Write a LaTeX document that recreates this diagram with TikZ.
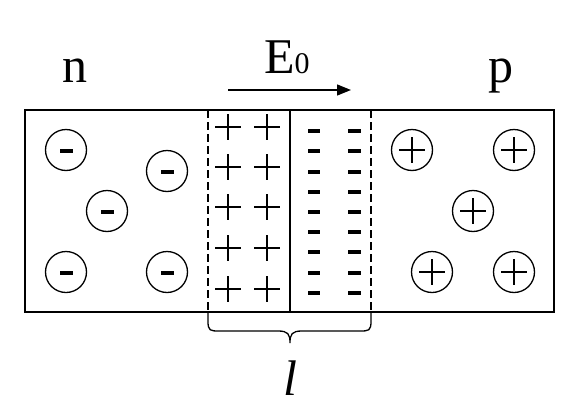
\documentclass[tikz,border=0pt]{standalone}
\usepackage{fontspec}
\setmainfont{Liberation Serif}
\newfontfamily\tmsfont{Liberation Serif}
\usetikzlibrary{arrows.meta}
\begin{document}
\begin{tikzpicture}[x=1pt,y=-1pt,
  ionneg/.style={circle,draw,minimum size=41pt,inner sep=0pt,line width=1.3pt,
    path picture={\fill[shift={(path picture bounding box.center)}] (-6.5,-0.8) rectangle (6.5,3.2);}},
  ionpos/.style={circle,draw,minimum size=41pt,inner sep=0pt,line width=1.3pt,
    path picture={\draw[line width=1.2pt,shift={(path picture bounding box.center)}] (-13,0) -- (13,0) (0,-13) -- (0,13);}},
  pluscharge/.style={inner sep=0pt,minimum size=26pt,
    path picture={\draw[line width=1.2pt,shift={(path picture bounding box.center)}] (-13,0) -- (13,0) (0,-13) -- (0,13);}},
  minuscharge/.style={fill=black,inner sep=0pt,minimum width=12.5pt,minimum height=4pt},
  lbl/.style={font=\tmsfont\fontsize{50}{60}\selectfont,inner sep=0pt},
  dashline/.style={line width=1.2pt,dash pattern=on 8pt off 4pt},
]
\useasboundingbox (0,0) rectangle (579,402);
% outer box
\draw[line width=1.5pt] (25,110) rectangle (554,312);
% depletion boundaries
\draw[dashline] (208,110) -- (208,312);
\draw[dashline] (371,110) -- (371,312);
\draw[line width=1.3pt] (290,110) -- (290,312);
% left ions
\node[ionneg] (a1) at (66,150) {};
\node[ionneg] (a2) at (167,171) {};
\node[ionneg] (a3) at (107,211) {};
\node[ionneg] (a4) at (66,272) {};
\node[ionneg] (a5) at (167,272) {};
% right ions
\node[ionpos] (b1) at (412,150) {};
\node[ionpos] (b2) at (514,150) {};
\node[ionpos] (b3) at (473,211) {};
\node[ionpos] (b4) at (432,272) {};
\node[ionpos] (b5) at (514,272) {};
% plus charges
\foreach \y [count=\i] in {127,167,207,248,289}{
  \node[pluscharge] (pl\i) at (228,\y) {};
  \node[pluscharge] (pr\i) at (267,\y) {};
}
% minus charges
\foreach \y [count=\i] in {131,151,172,192,212,232,252,273,293}{
  \node[minuscharge] (ml\i) at (314,\y) {};
  \node[minuscharge] (mr\i) at (354.5,\y) {};
}
% labels
\node[lbl,anchor=base] (n) at (74.5,82) {n};
\node[lbl,anchor=base] (p) at (501,82) {p};
\node[lbl,anchor=base west] (E) at (264,73) {E{\fontsize{30}{30}\selectfont 0}};
\node[lbl,anchor=base] (l) at (290,395) {\itshape l};
% field arrow
\coordinate (e1) at (228,90);
\coordinate (e2) at (351,90);
\draw[line width=1.3pt,-{Triangle[length=14pt,width=11pt]}] (e1) -- (e2);
% brace
\coordinate (bl) at (208,312);
\coordinate (br) at (371,312);
\coordinate (bt) at (290,343);
\draw[line width=1.3pt] (bl) -- (208,321) .. controls (208,331) and (210,331) .. (220,331)
  -- (278,331) .. controls (288,331) and (290,334) .. (bt)
  .. controls (290,334) and (292,331) .. (302,331) -- (359,331)
  .. controls (369,331) and (371,331) .. (371,321) -- (br);
\end{tikzpicture}
\end{document}
